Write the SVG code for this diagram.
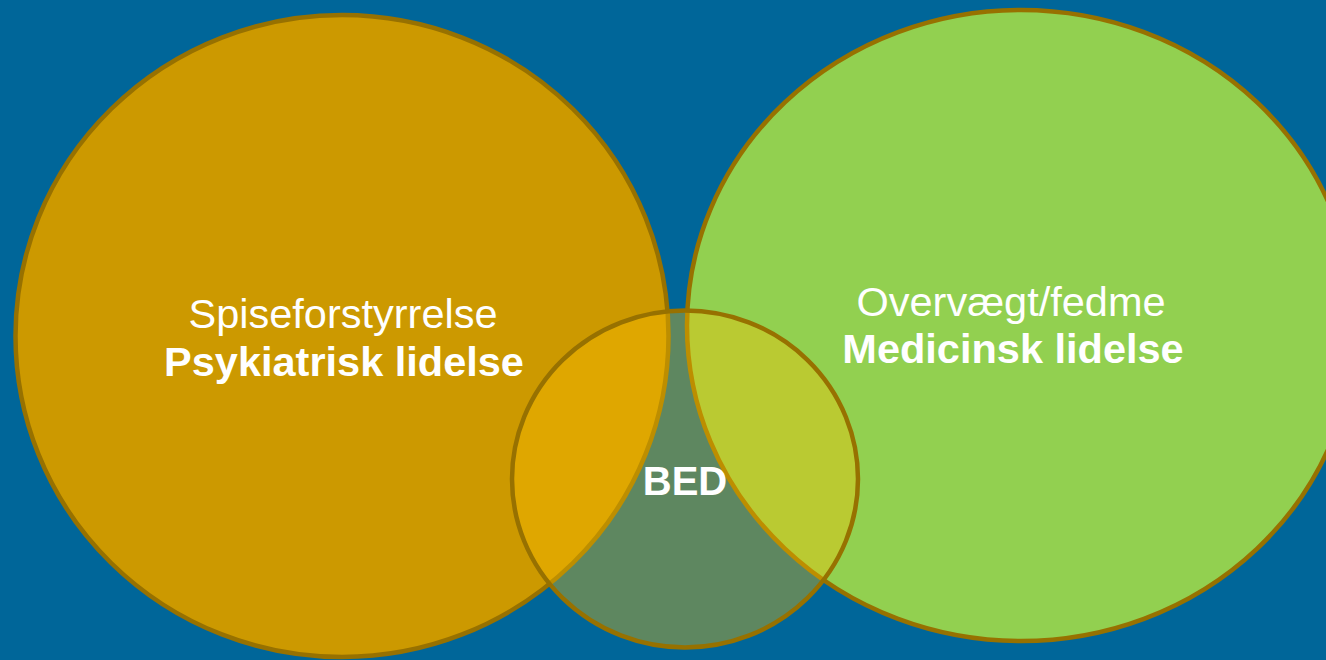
<svg xmlns="http://www.w3.org/2000/svg" width="1326" height="660" viewBox="0 0 1326 660">
  <style>
    .ring { stroke: #977100; stroke-width: 4.5; }
    .lbl { fill: #ffffff; font-family: "Liberation Sans", Arial, sans-serif; font-size: 41.5px; text-anchor: middle; }
    .b { font-weight: bold; }
  </style>
  <rect width="1326" height="660" fill="#006699"/>
  <g id="psykiatri">
    <ellipse class="ring" cx="342" cy="336" rx="326.5" ry="321" fill="#cc9900"/>
    <text class="lbl" x="343" y="328">Spiseforstyrrelse</text>
    <text class="lbl b" x="344" y="376">Psykiatrisk lidelse</text>
  </g>
  <g id="medicin">
    <ellipse class="ring" cx="1021" cy="325.5" rx="334" ry="315.5" fill="#92d050"/>
    <text class="lbl" x="1011" y="316">Overvægt/fedme</text>
    <text class="lbl b" x="1013" y="363">Medicinsk lidelse</text>
  </g>
  <g id="bed">
    <ellipse class="ring" cx="685" cy="479" rx="173" ry="168.5" fill="rgba(255,192,0,0.37)"/>
    <text class="lbl b" x="685" y="495" style="font-size:40px">BED</text>
  </g>
</svg>
